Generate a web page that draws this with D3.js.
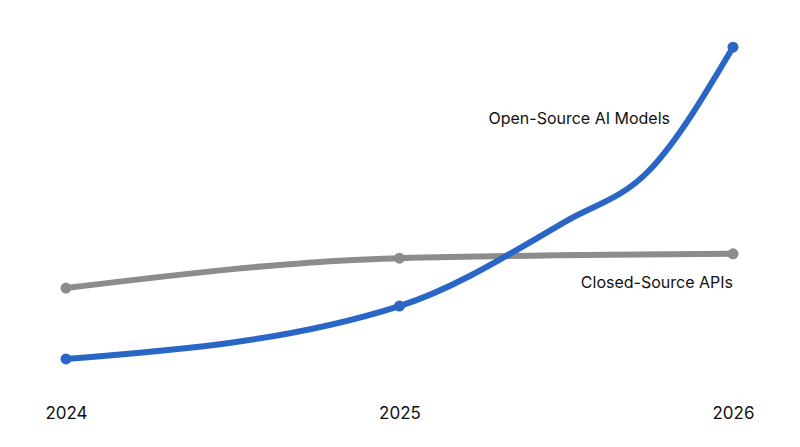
<!DOCTYPE html><html><head><meta charset="utf-8">
<script src="https://cdn.jsdelivr.net/npm/d3@7"></script>
<style>body{margin:0;background:#fff}text{font-family:Inter,"Noto Sans",sans-serif}</style></head><body>
<svg id="c" width="800" height="447"></svg>
<script>
const years=[2024,2025,2026];
const openX=[2024,2025,2025.5,2025.75,2026];
const openV=[11.4,26.1,49.7,63.9,98];
const closedX=[2024,2025,2026];
const closedV=[31.1,39.4,40.6];
const svg=d3.select("#c");
const x=d3.scaleLinear().domain([2024,2026]).range([66,733]);
const y=d3.scaleLinear().domain([0,100]).range([400,40]);
const line=d3.line().x(d=>x(d[0])).y(d=>y(d[1])).curve(d3.curveMonotoneX);
function series(xs,vs,col){
  const pts=xs.map((v,i)=>[v,vs[i]]);
  svg.append("path").attr("d",line(pts)).attr("fill","none").attr("stroke",col).attr("stroke-width",6).attr("stroke-linecap","round");
  svg.selectAll(null).data(pts.filter(p=>years.includes(p[0]))).enter().append("circle")
    .attr("cx",d=>x(d[0])).attr("cy",d=>y(d[1])).attr("r",5.5).attr("fill",col);
}
series(closedX,closedV,"#8c8c8c");
series(openX,openV,"#2a66c6");
svg.append("text").attr("x",670).attr("y",124).attr("text-anchor","end").attr("font-size",16).attr("fill","#111").text("Open-Source AI Models");
svg.append("text").attr("x",733).attr("y",288).attr("text-anchor","end").attr("font-size",16).attr("fill","#111").text("Closed-Source APIs");
const ax=d3.axisBottom(x).tickValues(years).tickFormat(d3.format("d")).tickSize(0).tickPadding(0);
const g=svg.append("g").attr("transform","translate(0,407)").call(ax);
g.select(".domain").remove();
g.selectAll("text").attr("font-size",17).attr("fill","#111").attr("dy","0.71em");
</script></body></html>
